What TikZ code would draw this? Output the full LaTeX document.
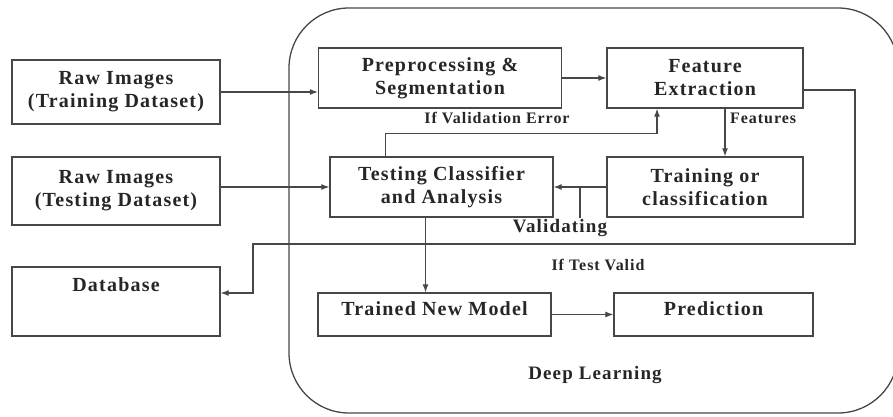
\documentclass[tikz,border=0pt]{standalone}
\usepackage{fontspec}
\setmainfont{Liberation Serif}[LetterSpace=6]
\usepackage{xcolor}
\usetikzlibrary{arrows.meta,positioning,calc}
\definecolor{lineGray}{HTML}{474747}
\definecolor{textDark}{HTML}{262626}

\begin{document}
\begin{tikzpicture}[
  x=1pt, y=-1pt,
  box/.style={rectangle, draw=lineGray, line width=1.3pt, fill=white, text=textDark, align=center, inner sep=2pt, font=\fontsize{20}{23}\selectfont\bfseries},
  lbl/.style={text=textDark, inner sep=1pt, font=\fontsize{16}{19}\selectfont\bfseries},
  biglbl/.style={text=textDark, inner sep=1pt, font=\fontsize{19}{23}\selectfont\bfseries},
  link/.style={draw=lineGray, line width=1.2pt},
  arrow/.style={-{Latex[length=8pt,width=6pt]}, draw=lineGray, line width=1.2pt},
  frame/.style={draw=lineGray, line width=1.3pt, rounded corners=60pt}
]
\clip (0,0) rectangle (893,417);
\fill[white] (0,0) rectangle (893,417);
\draw[frame] (289,8) rectangle (898,413);
% input side
\node[box, minimum width=208pt, minimum height=64pt] (rtrain) at (116,92) {Raw Images\\(Training Dataset)};
\node[box, minimum width=208pt, minimum height=68pt] (rtest) at (116,191) {Raw Images\\(Testing Dataset)};
\node[box, minimum width=208pt, minimum height=69pt, text height=14pt, text depth=35pt] (db) at (116,301.5) {Database};
% deep learning block
\node[box, minimum width=243pt, minimum height=60pt] (prep) at (440,78) {Preprocessing \&\\Segmentation};
\node[box, minimum width=196pt, minimum height=60pt] (feat) at (705,78) {Feature\\Extraction};
\node[box, minimum width=223pt, minimum height=60pt] (test) at (441.5,187) {Testing Classifier\\and Analysis};
\node[box, minimum width=196pt, minimum height=60pt] (train) at (705,187) {Training or\\classification};
\node[box, minimum width=233pt, minimum height=43pt, text height=14pt, text depth=13pt] (model) at (434.5,314.5) {Trained New Model};
\node[box, minimum width=199pt, minimum height=43pt, text height=14pt, text depth=13pt] (pred) at (713.5,314.5) {Prediction};
% connectors
\draw[arrow] (rtrain.east) -- (rtrain.east -| prep.west);
\draw[arrow] (prep.east) -- (feat.west);
\draw[arrow] ([xshift=20pt]feat.south) -- ([xshift=20pt]train.north);
\draw[arrow] (test.west -| rtest.east) -- (test.west);
\draw[arrow] (train.west) -- (test.east);
\coordinate (valtick) at ($(test.east)!0.5!(train.west)$);
\draw[link] (valtick) -- (valtick |- test.south);
\draw[arrow] ([xshift=-56pt]test.north) |- ([xshift=-48pt,yshift=-25pt]feat.south) -- ([xshift=-48pt]feat.south);
\draw[arrow] ([xshift=-16pt]test.south) -- ([xshift=-16pt]test.south |- model.north);
\coordinate (tvturn) at (855,244);
\coordinate (dbturn) at (253,293);
\draw[arrow] ([yshift=-12pt]feat.east) -| (tvturn) -| (dbturn) -- (dbturn -| db.east);
\draw[arrow] (model.east) -- (pred.west);
% labels
\node[lbl, anchor=west] (featlbl) at (729,118) {Features};
\node[lbl] (errlbl) at (497,118) {If Validation Error};
\node[biglbl] (vallbl) at (560,228) {Validating};
\node[lbl] (tvlbl) at (598,265) {If Test Valid};
\node[biglbl] (dllbl) at (595,375) {Deep Learning};
\end{tikzpicture}
\end{document}
